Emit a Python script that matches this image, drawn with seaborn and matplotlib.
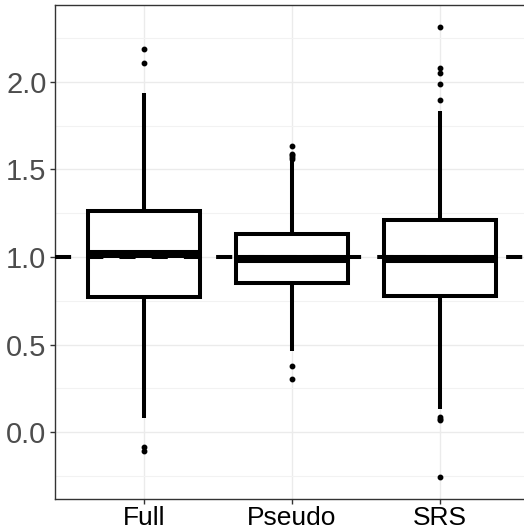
import numpy as np
import pandas as pd
import matplotlib
matplotlib.use("Agg")
import matplotlib.pyplot as plt
import seaborn as sns

# values
groups = ["Full", "Pseudo", "SRS"]
q1 = [0.772, 0.849, 0.775]
median = [1.015, 0.987, 0.987]
q3 = [1.260, 1.130, 1.212]
whisker_low = [0.079, 0.463, 0.132]
whisker_high = [1.938, 1.550, 1.833]
outliers = [
    [-0.11, -0.085, 2.106, 2.187],
    [0.303, 0.375, 1.56, 1.57, 1.58, 1.59, 1.634],
    [-0.254, 0.07, 0.075, 0.085, 1.896, 1.99, 2.049, 2.081, 2.311],
]
reference_line = 1.0

# rebuild a sample per group whose box statistics equal the values above
rows = []
for g, lo, a, m, b, hi, out in zip(groups, whisker_low, q1, median, q3, whisker_high, outliers):
    vals = [lo, hi] + [a] * 50 + [m] * 50 + [b] * 50 + list(out)
    rows += [(g, v) for v in vals]
df = pd.DataFrame(rows, columns=["method", "value"])

sns.set_theme(style="whitegrid")
plt.rcParams["font.family"] = ["Liberation Sans", "DejaVu Sans"]

fig = plt.figure(figsize=(5.24, 5.31), dpi=100)
ax = fig.add_axes([55 / 524, 32 / 531, 474 / 524, 494 / 531])

sns.boxplot(
    data=df, x="method", y="value", order=groups, ax=ax,
    width=0.76, color="white", linecolor="black", linewidth=2.9,
    showcaps=False,
    medianprops={"linewidth": 5.8, "color": "black"},
    flierprops={"marker": "o", "markersize": 3.2, "markerfacecolor": "black",
                "markeredgecolor": "black"},
)
ax.axhline(reference_line, color="black", lw=2.9, dashes=(4, 4), zorder=5)

ax.set_xlim(-0.6, 2.6)
ax.set_ylim(-0.382, 2.439)
ax.set_yticks([0, 0.5, 1.0, 1.5, 2.0])
ax.set_yticklabels(["0.0", "0.5", "1.0", "1.5", "2.0"])
ax.set_yticks([-0.25, 0.25, 0.75, 1.25, 1.75, 2.25], minor=True)
ax.set_xlabel("")
ax.set_ylabel("")

ax.grid(which="major", color="#EBEBEB", lw=1.0)
ax.grid(which="minor", axis="y", color="#F2F2F2", lw=0.8)
ax.set_axisbelow(True)
for s in ax.spines.values():
    s.set_color("#333333")
    s.set_linewidth(1.0)
ax.spines["right"].set_visible(False)  # falls outside the cropped picture

ax.tick_params(axis="both", which="major", length=3.7, width=1.0, color="#333333",
               pad=1.0, left=True, bottom=True)
ax.tick_params(axis="y", which="minor", length=0)
ax.tick_params(axis="y", labelsize=21, labelcolor="#4D4D4D", pad=2.5)
ax.tick_params(axis="x", labelsize=19, labelcolor="black")

fig.savefig("out.png", dpi=100)
